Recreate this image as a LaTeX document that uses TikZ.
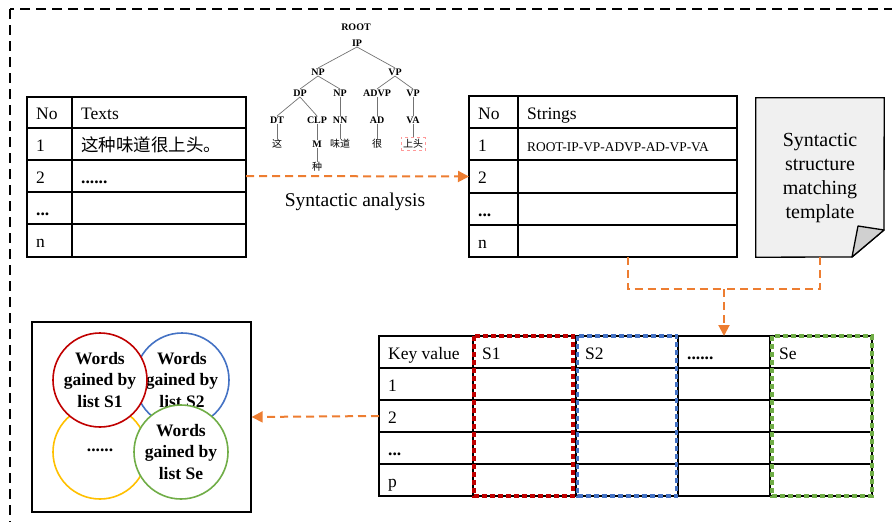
\documentclass[tikz,border=0pt]{standalone}
\usepackage{fontspec}
\setmainfont{Liberation Serif}
\newfontfamily\cjk{Noto Sans CJK SC}
\usetikzlibrary{arrows.meta}
\definecolor{orng}{HTML}{ED7D31}
\definecolor{cred}{HTML}{C00000}
\definecolor{cblue}{HTML}{4472C4}
\definecolor{cgreen}{HTML}{70AD47}
\definecolor{cyellow}{HTML}{FFC000}
\definecolor{docfill}{HTML}{F0F0F0}
\definecolor{foldfill}{HTML}{D0D0D0}
\tikzset{
  cellbox/.style={draw=black, line width=1.3pt, inner sep=0pt, outer sep=0pt},
  celltext/.style={anchor=base west, inner sep=0pt, font=\fontsize{17.5}{20}\selectfont},
  odash/.style={draw=orng, line width=2pt, dash pattern=on 8pt off 5pt},
  otip/.style={-{Triangle[length=11pt,width=11pt]}},
  hbox/.style={line width=3.5pt, dash pattern=on 5pt off 3pt},
  trn/.style={inner sep=0.5pt, font=\bfseries\fontsize{10}{11}\selectfont},
  trc/.style={inner sep=0.5pt, font=\cjk\fontsize{10}{11}\selectfont},
  tre/.style={draw=black!55, line width=0.7pt},
  wcirc/.style={circle, draw, line width=1.6pt, fill=white, minimum size=94pt, inner sep=0pt,
     align=center, font=\bfseries\fontsize{17.5}{21.5}\selectfont},
}
\newcommand\tdots{\textbf{...}}
\newcommand\tcell[6]{%
  \node[cellbox, minimum width={(#4)-(#2)}, minimum height={(#5)-(#3)}] (#1) at ({((#2)+(#4))/2},{((#3)+(#5))/2}) {};
  \node[celltext] (#1-t) at ([xshift=9pt,yshift=-7pt]#1.west) {#6};}
\begin{document}
\begin{tikzpicture}[x=1pt,y=-1pt]
\useasboundingbox (0,0) rectangle (892,522);
\clip (0,0) rectangle (892,522);
% outer frame
\draw[line width=1.6pt, dash pattern=on 10pt off 6pt] (10,9) rectangle (905,540);

% left table
\tcell{la0}{27}{97}{72}{128}{No}
\tcell{lb0}{72}{97}{246}{128}{Texts}
\tcell{la1}{27}{128}{72}{160}{1}
\tcell{lb1}{72}{128}{246}{160}{{\cjk 这种味道很上头。}}
\tcell{la2}{27}{160}{72}{192}{2}
\tcell{lb2}{72}{160}{246}{192}{\textbf{......}}
\tcell{la3}{27}{192}{72}{224}{\tdots}
\tcell{lb3}{72}{192}{246}{224}{}
\tcell{la4}{27}{224}{72}{257}{n}
\tcell{lb4}{72}{224}{246}{257}{}

% right table
\tcell{ra0}{469}{96}{518}{128}{No}
\tcell{rb0}{518}{96}{737}{128}{Strings}
\tcell{ra1}{469}{128}{518}{160}{1}
\tcell{rb1}{518}{128}{737}{160}{\fontsize{13.4}{15}\selectfont ROOT-IP-VP-ADVP-AD-VP-VA}
\tcell{ra2}{469}{160}{518}{193}{2}
\tcell{rb2}{518}{160}{737}{193}{}
\tcell{ra3}{469}{193}{518}{225}{\tdots}
\tcell{rb3}{518}{193}{737}{225}{}
\tcell{ra4}{469}{225}{518}{257}{n}
\tcell{rb4}{518}{225}{737}{257}{}

% document shape
\node[minimum width=128pt, minimum height=159pt, inner sep=0pt] (doc) at (820,177.5) {};
\draw[line width=1.3pt, fill=docfill] (doc.north west) -- (doc.north east) -- (884,230) -- (852,257) -- (doc.south west) -- cycle;
\draw[line width=1.3pt, fill=foldfill, line join=round] (852,257) -- (858,226) -- (884,230) -- cycle;
\node[align=center, font=\fontsize{20}{24}\selectfont, inner sep=0pt] (doct) at (820,178) {Syntactic\\structure\\matching\\template};

% parse tree
\node[trn] (root) at (356,27) {ROOT};
\node[trn] (ip) at (357,43) {IP};
\node[trn] (np) at (318,72) {NP};
\node[trn] (vp) at (395,72) {VP};
\node[trn] (dp) at (300,93) {DP};
\node[trn] (np2) at (340,93) {NP};
\node[trn] (advp) at (377,93) {ADVP};
\node[trn] (vp2) at (413,93) {VP};
\node[trn] (dt) at (277,120) {DT};
\node[trn] (clp) at (317,120) {CLP};
\node[trn] (nn) at (340,120) {NN};
\node[trn] (ad) at (377,120) {AD};
\node[trn] (va) at (413,120) {VA};
\node[trc] (w1) at (277,144) {这};
\node[trn] (m) at (317,144) {M};
\node[trc] (w3) at (340,144) {味道};
\node[trc] (w4) at (377,144) {很};
\node[trc, draw=red!40, dashed, line width=0.5pt, inner sep=2pt] (w5) at (413,144) {上头};
\node[trc] (w2) at (317,167) {种};
\draw[tre] (ip.south) -- (np.north);
\draw[tre] (ip.south) -- (vp.north);
\draw[tre] (np.south) -- (dp.north);
\draw[tre] (np.south) -- (np2.north);
\draw[tre] (vp.south) -- (advp.north);
\draw[tre] (vp.south) -- (vp2.north);
\draw[tre] (dp.south) -- (dt.north);
\draw[tre] (dp.south) -- (clp.north);
\draw[tre] (np2.south) -- (nn.north);
\draw[tre] (advp.south) -- (ad.north);
\draw[tre] (vp2.south) -- (va.north);
\draw[tre] (dt.south) -- (w1.north);
\draw[tre] (clp.south) -- (m.north);
\draw[tre] (nn.south) -- (w3.north);
\draw[tre] (ad.south) -- (w4.north);
\draw[tre] (va.south) -- (w5.north);
\draw[tre] (m.south) -- (w2.north);

% syntactic analysis arrow
\draw[odash, otip, orng] (lb2.east) -- (ra2.west);
\node[font=\fontsize{19.5}{22}\selectfont, inner sep=0pt] (sa) at (355,202) {Syntactic analysis};

% bottom table
\tcell{ka}{379}{336}{473}{368}{Key value}
\tcell{kb}{473}{336}{576}{368}{S1}
\tcell{kc}{576}{336}{678}{368}{S2}
\tcell{kd}{678}{336}{770}{368}{\textbf{......}}
\tcell{ke}{770}{336}{872}{368}{Se}
\foreach \r/\ya/\yb/\lab in {1/368/400/1, 2/400/432/2, 3/432/464/\tdots, 4/464/496/p}{
  \tcell{ka\r}{379}{\ya}{473}{\yb}{\lab}
  \tcell{kb\r}{473}{\ya}{576}{\yb}{}
  \tcell{kc\r}{576}{\ya}{678}{\yb}{}
  \tcell{kd\r}{678}{\ya}{770}{\yb}{}
  \tcell{ke\r}{770}{\ya}{872}{\yb}{}
}
\draw[hbox, draw=cred] ([xshift=1pt]kb.north west) rectangle ([xshift=-3pt]kb4.south east);
\draw[hbox, draw=cblue] ([xshift=1.5pt]kc.north west) rectangle ([xshift=-1.5pt]kc4.south east);
\draw[hbox, draw=cgreen] ([xshift=2pt]ke.north west) rectangle (ke4.south east);

% template connector
\coordinate (j) at (724,289);
\draw[odash] (rb4.south) |- (j);
\draw[odash] (doc.south) |- (j);
\draw[odash, otip, orng] (j) -- (kd.north);

% result box
\node[draw, line width=1.3pt, minimum width=219pt, minimum height=190pt, inner sep=0pt] (res) at (141.5,417) {};
\node[wcirc, draw=cblue] (cb) at (182,380) {Words\\gained by\\list S2};
\node[wcirc, draw=cyellow] (cy) at (100,452) {\raisebox{4pt}{......}};
\node[wcirc, draw=cred] (cr) at (100,380) {Words\\gained by\\list S1};
\node[wcirc, draw=cgreen] (cg) at (181,452) {Words\\gained by\\list Se};

\draw[odash, otip, orng] (ka2.west) -- (res.east);
\end{tikzpicture}
\end{document}
